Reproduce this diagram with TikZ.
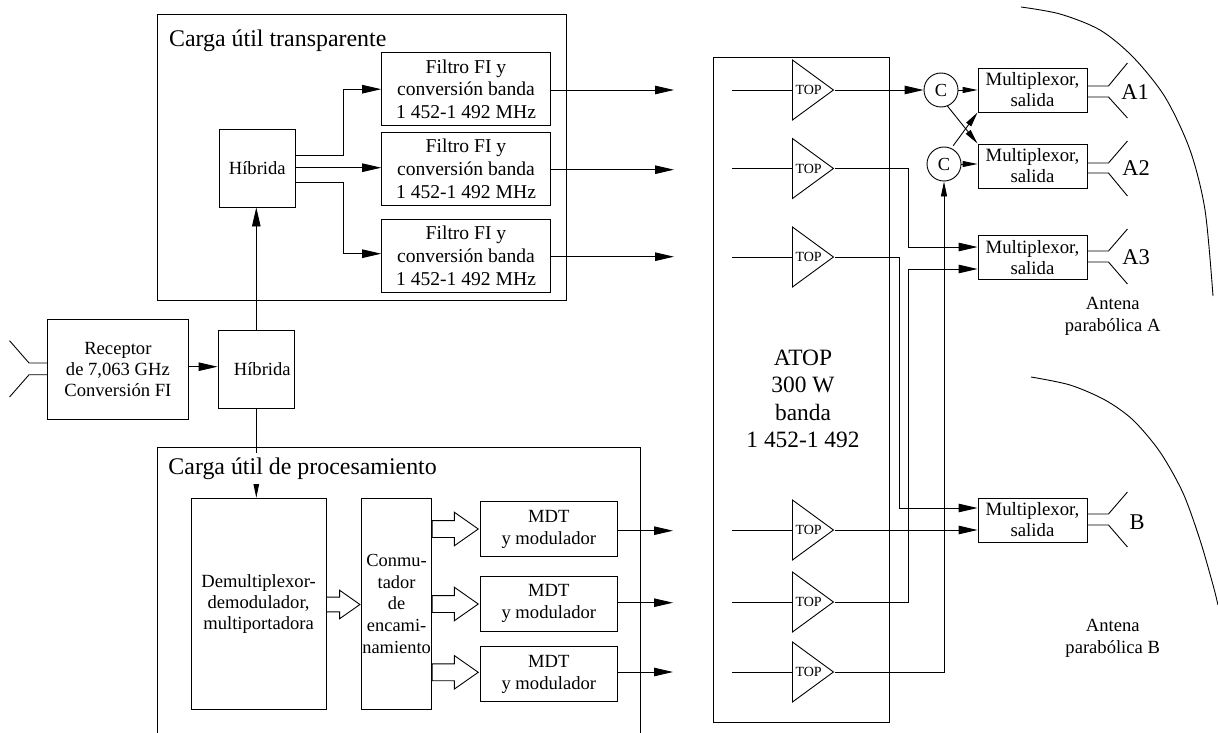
\documentclass[tikz,border=0pt]{standalone}
\usepackage{fontspec}
\setmainfont{Liberation Serif}
\usetikzlibrary{arrows.meta,shapes.geometric,shapes.arrows}

\tikzset{
  blockbox/.style={draw,rectangle,inner sep=0pt,align=center,font=\fontsize{18.6}{21}\selectfont},
  filterbox/.style={blockbox,minimum width=168.7pt,minimum height=73pt,font=\fontsize{19.6}{22.7}\selectfont},
  muxbox/.style={blockbox,minimum width=109pt,minimum height=44pt,font=\fontsize{18.8}{21}\selectfont},
  mdtbox/.style={blockbox,minimum width=137.6pt,minimum height=55pt,font=\fontsize{18.6}{21.7}\selectfont},
  ampbox/.style={draw,isosceles triangle,isosceles triangle stretches,minimum width=60pt,minimum height=41pt,
    inner sep=0pt,anchor=lower side,font=\fontsize{14}{16}\selectfont},
  combbox/.style={draw,circle,minimum size=34pt,inner sep=0pt,font=\fontsize{18.4}{21}\selectfont},
  widearrow/.style={draw,single arrow,inner xsep=0pt,inner ysep=8pt,anchor=tail,minimum height=46pt,minimum width=0pt,
    single arrow head extend=8.3pt,single arrow tip angle=70},
  flow/.style={-{Triangle[length=19pt,width=8.5pt]}},
  flowsmall/.style={-{Triangle[length=15pt,width=6pt]}},
  heading/.style={anchor=west,inner xsep=0pt,inner ysep=4.5pt,font=\fontsize{23.9}{27}\selectfont},
  caption/.style={align=center,font=\fontsize{18.6}{22}\selectfont},
  bandlabel/.style={font=\fontsize{22.5}{26}\selectfont}
}

\begin{document}
\begin{tikzpicture}[x=1pt,y=-1pt,line width=0.9pt]
\useasboundingbox (0,0) rectangle (1218,733);

% carga util transparente
\node[draw,minimum width=408.4pt,minimum height=286pt,inner sep=0pt] (transp) at (361.8,157) {};
\node[heading] (transptitle) at (168.7,40.7) {Carga útil transparente};
\node[blockbox,minimum width=76.5pt,minimum height=78pt] (hibB) at (257.3,168) {Híbrida};
\node[filterbox] (fil1) at (466,89.2) {Filtro FI y\\conversión banda\\1 452-1 492 MHz};
\node[filterbox] (fil2) at (466,168.7) {Filtro FI y\\conversión banda\\1 452-1 492 MHz};
\node[filterbox] (fil3) at (466,255.8) {Filtro FI y\\conversión banda\\1 452-1 492 MHz};
\coordinate (outf1) at (674,90);
\coordinate (outf2) at (674,169.7);
\coordinate (outf3) at (674,256.7);
\draw[flow] (hibB.east |- 0,155) -- (343.3,155) |- (fil1.west);
\draw[flow] (hibB.east |- 0,167.7) -- (fil2.west |- 0,167.7);
\draw[flow] (hibB.east |- 0,182.7) -- (343.3,182.7) |- (fil3.west |- 0,253.7);
\draw[flow] (fil1.east |- outf1) -- (outf1);
\draw[flow] (fil2.east |- outf2) -- (outf2);
\draw[flow] (fil3.east |- outf3) -- (outf3);

% receptor
\node[blockbox,minimum width=140.2pt,minimum height=100pt] (recv) at (117.9,369) {Receptor\\de 7,063 GHz\\Conversión FI};
\node[blockbox,minimum width=76.6pt,minimum height=78pt] (hibA) at (256.3,369) {\hspace{12pt}Híbrida};
\draw (recv.west |- 0,363) -- ++(-18.3,0) -- ++(-19.5,-22.3);
\draw (recv.west |- 0,374.7) -- ++(-18.3,0) -- ++(-19.5,22.3);
\draw[flow] (recv.east |- 0,366.7) -- (hibA.west |- 0,366.7);
\draw[flow] (hibA.north) -- (hibA.north |- hibB.south);

% carga util de procesamiento
\node[blockbox,minimum width=134.7pt,minimum height=211pt] (demux) at (258.6,603.8) {Demultiplexor-\\demodulador,\\multiportadora};
\draw[flowsmall] (hibA.south) -- (hibA.south |- demux.north);
\draw (157.7,733) -- (157.7,447.3) -- (640,447.3) -- (640,733);
\node[heading,fill=white] (proctitle) at (168,468.5) {Carga útil de procesamiento};
\node[blockbox,minimum width=70.4pt,minimum height=211pt,font=\fontsize{18.4}{21.7}\selectfont] (swit) at (396.6,603.8) {Conmu-\\tador\\de\\encami-\\namiento};
\node[mdtbox] (mdt1) at (548.8,529.2) {MDT\\y modulador};
\node[mdtbox] (mdt2) at (548.8,603.5) {MDT\\y modulador};
\node[mdtbox] (mdt3) at (548.8,674.3) {MDT\\y modulador};
\node[widearrow,minimum height=33.5pt,inner ysep=6.9pt,single arrow head extend=6.9pt] (arr0) at (326,604.5) {};
\node[widearrow] (arr1) at (431.8,529) {};
\node[widearrow] (arr2) at (431.8,604) {};
\node[widearrow] (arr3) at (431.8,672.3) {};
\coordinate (outm1) at (673,530.7);
\coordinate (outm2) at (673,602.7);
\coordinate (outm3) at (673,672);
\draw[flow] (mdt1.east |- outm1) -- (outm1);
\draw[flow] (mdt2.east |- outm2) -- (outm2);
\draw[flow] (mdt3.east |- outm3) -- (outm3);

% ATOP
\node[draw,minimum width=176pt,minimum height=664.5pt,inner sep=0pt] (atop) at (801,389.9) {};
\node[align=center,inner sep=0pt,font=\fontsize{23.4}{27.5}\selectfont] (atoptext) at (803,399) {ATOP\\300 W\\banda\\1 452-1 492};
\foreach \n/\y in {1/90,2/168.5,3/257,4/530,5/602,6/672}{
  \node[ampbox] (top\n) at (792,\y) {TOP};
  \coordinate (in\n) at (732,\y);
  \draw (in\n) -- (top\n.lower side);
}

% salidas
\node[combbox] (c1) at (941,90) {C};
\node[combbox] (c2) at (944,164) {C};
\node[muxbox] (mux1) at (1032.5,90) {Multiplexor,\\salida};
\node[muxbox] (mux2) at (1032.5,166) {Multiplexor,\\salida};
\node[muxbox] (mux3) at (1032.5,257.5) {Multiplexor,\\salida};
\node[muxbox] (muxb) at (1032.5,520) {Multiplexor,\\salida};
\draw[flow] (top1.apex) -- (c1.west);
\draw[flowsmall] (c1.east) -- (mux1.west);
\draw[flowsmall] (c2.east) -- (mux2.west |- c2);
\draw[flowsmall] (c1.-68) -- (mux2.north west);
\draw[flowsmall,shorten <=3pt] (c2.65) -- (mux1.south west);
\draw[flow] (top2.apex) -- (908,168.5) |- (mux3.west |- 0,247);
\draw[flow] (top3.apex) -- (899,257) |- (muxb.west |- 0,508);
\draw[flow] (top4.apex) -- (muxb.west |- top4.apex);
\draw[flow] (top5.apex) -- (908,602) |- (mux3.west |- 0,269);
\draw[flowsmall] (top6.apex) -| (c2.south);

% antenas
\draw (mux1.east |- 0,86) -- ++(21,0) -- ++(19,-23);
\draw (mux1.east |- 0,97) -- ++(21,0) -- ++(19,21);
\draw (mux2.east |- 0,163) -- ++(21,0) -- ++(19,-22);
\draw (mux2.east |- 0,173) -- ++(21,0) -- ++(19,23);
\draw (mux3.east |- 0,251) -- ++(21,0) -- ++(19,-22);
\draw (mux3.east |- 0,262) -- ++(21,0) -- ++(19,22);
\draw (muxb.east |- 0,514) -- ++(21,0) -- ++(19,-22);
\draw (muxb.east |- 0,525) -- ++(21,0) -- ++(19,22);
\node[bandlabel] (labA1) at (1135,92) {A1};
\node[bandlabel] (labA2) at (1136,168) {A2};
\node[bandlabel] (labA3) at (1136,257) {A3};
\node[bandlabel] (labB) at (1137,522) {B};
\draw[smooth] plot coordinates {(1021,7) (1060,14) (1100,30) (1133,57) (1165,97) (1190,150) (1205,210) (1213,296)};
\draw[smooth] plot coordinates {(1031,377) (1070,385) (1105,400) (1133,420) (1160,452) (1183,493) (1200,540) (1213,585) (1218,605)};
\node[caption] (capA) at (1112.7,316.7) {Antena\\parabólica A};
\node[caption] (capB) at (1112.7,638) {Antena\\parabólica B};
\end{tikzpicture}
\end{document}
